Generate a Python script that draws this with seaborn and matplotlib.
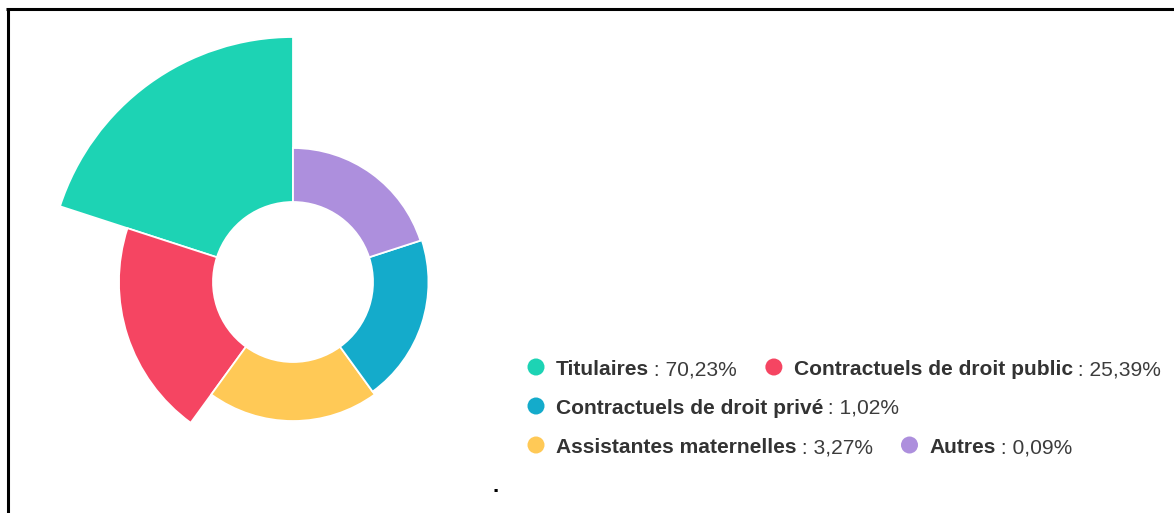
import matplotlib.pyplot as plt
from matplotlib.patches import Wedge
import seaborn as sns

# data
categories = ["Titulaires", "Contractuels de droit public", "Contractuels de droit privé",
              "Assistantes maternelles", "Autres"]
shares = [70.23, 25.39, 1.02, 3.27, 0.09]
share_labels = ["70,23%", "25,39%", "1,02%", "3,27%", "0,09%"]
colors = ["#1DD3B4", "#F54562", "#14ABCB", "#FFC956", "#AD8FDD"]

# slices go counter-clockwise from 12 o'clock in this order
slice_order = ["Titulaires", "Contractuels de droit public", "Assistantes maternelles",
               "Contractuels de droit privé", "Autres"]
# how the legend wraps
legend_rows = [["Titulaires", "Contractuels de droit public"],
               ["Contractuels de droit privé"],
               ["Assistantes maternelles", "Autres"]]

sns.set_theme(style="white")
plt.rcParams["font.family"] = ["Liberation Sans", "DejaVu Sans"]
palette = dict(zip(categories, sns.color_palette(colors)))
value_of = dict(zip(categories, shares))
label_of = dict(zip(categories, share_labels))

W, H = 1174, 513
fig = plt.figure(figsize=(W / 100, H / 100), dpi=100)
ax = fig.add_axes([0, 0, 1, 1])
ax.set_xlim(0, W)
ax.set_ylim(H, 0)  # pixel-like coords, y down
ax.axis("off")

# variable radius donut: radius scaled linearly between min and max share
cx, cy = 293, 282
r_in, r_lo, r_hi = 80, 134, 245
vmin, vmax = min(shares), max(shares)


def radius(v):
    return r_lo + (r_hi - r_lo) * (v - vmin) / (vmax - vmin)


step = 360 / len(slice_order)
for i, name in enumerate(slice_order):
    a1 = 90 + i * step
    a2 = a1 + step
    r = radius(value_of[name])
    # y axis is inverted, so flip the angles
    ax.add_patch(Wedge((cx, cy), r, -a2, -a1, width=r - r_in,
                       facecolor=palette[name], edgecolor="white", lw=1.3))

# legend, built by hand so the name is bold and the value is not
fig.canvas.draw()
renderer = fig.canvas.get_renderer()
fs = 15.1
txt_color = "#333333"
row_y = [375, 414, 453]
for row, base in zip(legend_rows, row_y):
    x = 536
    for name in row:
        ax.scatter([x], [base - 8], s=150, color=palette[name], edgecolors="none", zorder=3)
        t1 = ax.text(x + 20, base, name, fontsize=fs, fontweight="bold",
                     color=txt_color, va="baseline", ha="left")
        x_end = t1.get_window_extent(renderer).x1 - 1
        t2 = ax.text(x_end, base, " : " + label_of[name], fontsize=fs,
                     color="#3c3c3c", va="baseline", ha="left")
        x = t2.get_window_extent(renderer).x1 + 37

# stray dot under the legend
ax.text(496, 492, ".", fontsize=16, color="black", ha="center", va="baseline",
        fontweight="bold")

# screenshot frame (top and left edges only)
ax.plot([6, W], [9, 9], color="black", lw=2.2, solid_capstyle="butt")
ax.plot([7.5, 7.5], [8, H], color="black", lw=2.2, solid_capstyle="butt")

plt.savefig("out.png", dpi=100)
